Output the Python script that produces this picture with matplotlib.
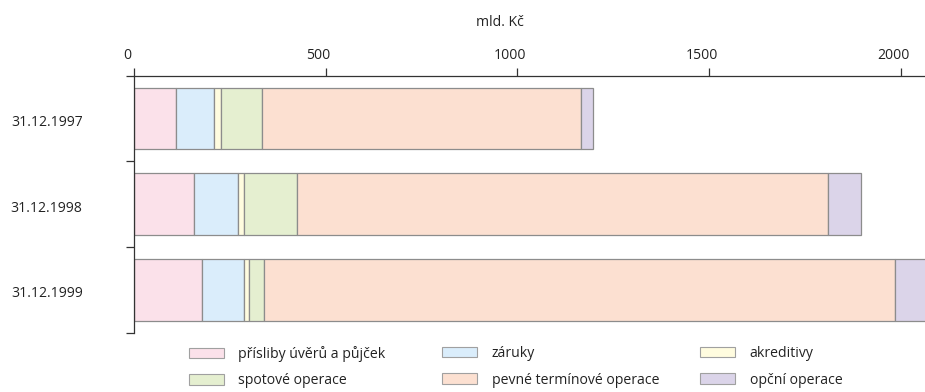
import matplotlib
matplotlib.use("Agg")
import matplotlib.pyplot as plt
import matplotlib.transforms as mtransforms
from matplotlib.patches import Patch

# Data (mld. Kč)
dates = ["31.12.1997", "31.12.1998", "31.12.1999"]
series_names = [
    "přísliby úvěrů a půjček",
    "záruky",
    "akreditivy",
    "spotové operace",
    "pevné termínové operace",
    "opční operace",
]
prisliby = [109, 156, 178]
zaruky = [100, 116, 108]
akreditivy = [19, 16, 15]
spotove = [107, 138, 39]
pevne = [831, 1385, 1645]
opcni = [32, 85, 95]
xticks = [0, 500, 1000, 1500, 2000]

colors = ["#FBE1EA", "#DAEDFB", "#FFFCDF", "#E5EFD0", "#FCE0D1", "#DBD4E9"]
edge = "#8c8c8c"

plt.rcParams["font.family"] = ["Open Sans", "DejaVu Sans"]
FS = 10.1
FS_PX = FS * 100 / 72
TXT = "#222222"
DPI = 100

fig = plt.figure(figsize=(9.25, 3.92), dpi=DPI)
ax = fig.add_axes([134 / 925, 1 - 332.7 / 392, (925 - 134) / 925, (332.7 - 75.7) / 392])

series = [prisliby, zaruky, akreditivy, spotove, pevne, opcni]
ypos = list(range(len(dates)))
left = [0] * len(dates)
for name, vals, c in zip(series_names, series, colors):
    ax.barh(ypos, vals, left=left, height=0.72, color=c, edgecolor=edge,
            linewidth=0.9, label=name)
    left = [a + b for a, b in zip(left, vals)]

ax.set_xlim(0, 2063)
ax.set_ylim(2.5, -0.5)

# x axis on top
ax.xaxis.set_ticks_position("top")
ax.set_xticks(xticks)
ax.set_xticklabels([str(t) for t in xticks])
ax.tick_params(axis="x", direction="out", length=6, width=0.9, color="#333333",
               pad=3.3, labelsize=FS, labelcolor=TXT)
off = mtransforms.ScaledTranslation(-7 / DPI, 0, fig.dpi_scale_trans)
for lab in ax.get_xticklabels():
    lab.set_transform(lab.get_transform() + off)

# y axis: ticks between categories, labels at centres
ax.set_yticks([-0.5, 0.5, 1.5, 2.5])
ax.set_yticklabels([])
ax.set_yticks(ypos, minor=True)
ax.set_yticklabels(dates, minor=True)
ax.tick_params(axis="y", which="major", direction="out", length=6, width=0.9,
               color="#333333")
ax.tick_params(axis="y", which="minor", length=0, pad=37, labelsize=FS,
               labelcolor=TXT)
yoff = mtransforms.ScaledTranslation(0, -2 / DPI, fig.dpi_scale_trans)
for lab in ax.get_yticklabels(minor=True):
    lab.set_transform(lab.get_transform() + yoff)

for s in ["right", "bottom"]:
    ax.spines[s].set_visible(False)
for s in ["top", "left"]:
    ax.spines[s].set_color("#333333")
    ax.spines[s].set_linewidth(0.9)

fig.text(500 / 925, 1 - 23 / 392, "mld. Kč", ha="center", va="center",
         fontsize=FS, color=TXT)

# legend: three columns of two entries each
handles = [Patch(facecolor=c, edgecolor="#a0a0a0", linewidth=0.8) for c in colors]
col_x = [189, 442, 700]
for k, x0 in enumerate(col_x):
    idx = [k, k + 3]
    leg = fig.legend([handles[i] for i in idx], [series_names[i] for i in idx],
                     loc="upper left", bbox_to_anchor=(x0 / 925, 1 - 346 / 392),
                     frameon=False, fontsize=FS, handlelength=35 / FS_PX,
                     handleheight=11 / FS_PX, handletextpad=14.5 / FS_PX,
                     labelspacing=11.5 / FS_PX, borderpad=0, borderaxespad=0)
    for t in leg.get_texts():
        t.set_color(TXT)

fig.savefig("out.png", dpi=DPI)
